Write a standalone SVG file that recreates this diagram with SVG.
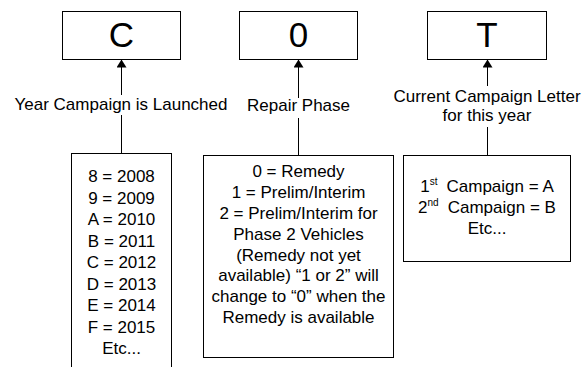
<svg xmlns="http://www.w3.org/2000/svg" width="586" height="367" viewBox="0 0 586 367">
<style>
.box{fill:#fff;stroke:#000;stroke-width:1}
.big{font-family:"Liberation Sans",Arial,sans-serif;font-size:35px;fill:#000;text-anchor:middle}
.t{font-family:"Liberation Sans",Arial,sans-serif;font-size:17px;fill:#000;text-anchor:middle}
.sup{font-size:10px}
.conn{stroke:#000;stroke-width:1;fill:none;marker-end:url(#ah)}
.lbg{fill:#fff}
</style>
<defs>
<marker id="ah" viewBox="0 0 8 10" refX="8" refY="5" markerWidth="8" markerHeight="10" markerUnits="userSpaceOnUse" orient="auto">
<path d="M0,0 L8,5 L0,10 Z" fill="#000"/>
</marker>
</defs>
<rect width="586" height="367" fill="#fff"/>
<g id="connectors">
<line class="conn" x1="121.5" y1="153" x2="121.5" y2="59.5"/>
<line class="conn" x1="298.5" y1="155" x2="298.5" y2="59.5"/>
<line class="conn" x1="487.5" y1="155" x2="487.5" y2="59.5"/>
<g id="label-year">
<rect class="lbg" x="10" y="95" width="222" height="20"/>
<text class="t" x="121" y="110">Year Campaign is Launched</text>
</g>
<g id="label-repair">
<rect class="lbg" x="245" y="98" width="107" height="20"/>
<text class="t" x="298.5" y="111">Repair Phase</text>
</g>
<g id="label-current">
<rect class="lbg" x="425" y="86" width="125" height="41"/>
<text class="t" x="487" y="102">Current Campaign Letter</text>
<text class="t" x="487" y="121">for this year</text>
</g>
</g>
<g id="node-C">
<rect class="box" x="62.5" y="11.5" width="118" height="48"/>
<text class="big" x="121.5" y="47">C</text>
</g>
<g id="node-0">
<rect class="box" x="239.5" y="11.5" width="118" height="48"/>
<text class="big" x="298.5" y="47">0</text>
</g>
<g id="node-T">
<rect class="box" x="427.5" y="11.5" width="119" height="48"/>
<text class="big" x="487" y="47">T</text>
</g>
<g id="node-years">
<rect class="box" x="71.5" y="153.5" width="100" height="220"/>
<text class="t" x="121.5" y="182">8 = 2008</text>
<text class="t" x="121.5" y="203.5">9 = 2009</text>
<text class="t" x="121.5" y="225">A = 2010</text>
<text class="t" x="121.5" y="246.5">B = 2011</text>
<text class="t" x="121.5" y="268">C = 2012</text>
<text class="t" x="121.5" y="289.5">D = 2013</text>
<text class="t" x="121.5" y="311">E = 2014</text>
<text class="t" x="121.5" y="332.5">F = 2015</text>
<text class="t" x="121.5" y="353.5">Etc...</text>
</g>
<g id="node-phase">
<rect class="box" x="203.5" y="155.5" width="190" height="202"/>
<text class="t" x="298.5" y="177">0 = Remedy</text>
<text class="t" x="298.5" y="198">1 = Prelim/Interim</text>
<text class="t" x="298.5" y="218.5">2 = Prelim/Interim for</text>
<text class="t" x="298.5" y="239.5">Phase 2 Vehicles</text>
<text class="t" x="298.5" y="260.5">(Remedy not yet</text>
<text class="t" x="298.5" y="281">available) “1 or 2” will</text>
<text class="t" x="298.5" y="302">change to “0” when the</text>
<text class="t" x="298.5" y="323">Remedy is available</text>
</g>
<g id="node-letter">
<rect class="box" x="403.5" y="155.5" width="167" height="106"/>
<text class="t" x="487" y="192">1<tspan class="sup" dy="-7">st</tspan><tspan dx="9" dy="7">Campaign = A</tspan></text>
<text class="t" x="487" y="213">2<tspan class="sup" dy="-7">nd</tspan><tspan dx="9" dy="7">Campaign = B</tspan></text>
<text class="t" x="487" y="234">Etc...</text>
</g>
</svg>
